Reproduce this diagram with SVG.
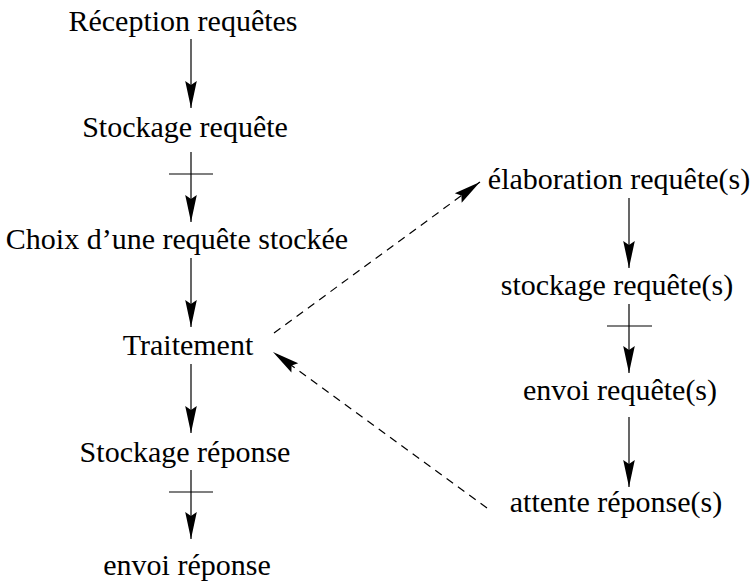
<svg xmlns="http://www.w3.org/2000/svg" width="753" height="585" viewBox="0 0 753 585">
<style>
text{font-family:"Liberation Serif","Times New Roman",serif;font-size:30px;fill:#000;text-anchor:middle}
.c{stroke:#000;stroke-width:1.2;fill:none}
.a{marker-end:url(#ah)}
.d{stroke-dasharray:8 6}
</style>
<defs>
<marker id="ah" markerUnits="userSpaceOnUse" viewBox="-28 -7 29 14" markerWidth="29" markerHeight="14" refX="0" refY="0" orient="auto">
<path d="M0,0 L-27,-5.8 L-23,0 L-27,5.8 Z" fill="#000"/>
</marker>
</defs>
<rect width="753" height="585" fill="#fff"/>
<g id="n1"><text x="183" y="31">Réception requêtes</text></g>
<g id="n2"><text x="185" y="137">Stockage requête</text></g>
<g id="n3"><text x="177" y="249">Choix d’une requête stockée</text></g>
<g id="n4"><text x="188" y="355">Traitement</text></g>
<g id="n5"><text x="185" y="462">Stockage réponse</text></g>
<g id="n6"><text x="187" y="575">envoi réponse</text></g>
<g id="n7"><text x="619" y="189">élaboration requête(s)</text></g>
<g id="n8"><text x="617" y="295">stockage requête(s)</text></g>
<g id="n9"><text x="620" y="400">envoi requête(s)</text></g>
<g id="n10"><text x="616" y="512">attente réponse(s)</text></g>
<g id="connectors">
<line class="c a" x1="191" y1="39" x2="191" y2="108"/>
<line class="c a" x1="191" y1="152" x2="191" y2="222"/>
<line class="c" x1="169" y1="174" x2="213" y2="174"/>
<line class="c a" x1="191" y1="258" x2="191" y2="327"/>
<line class="c a" x1="191" y1="364" x2="191" y2="433"/>
<line class="c a" x1="191" y1="470" x2="191" y2="539"/>
<line class="c" x1="169" y1="492" x2="213" y2="492"/>
<line class="c a" x1="629" y1="198" x2="629" y2="268"/>
<line class="c a" x1="629" y1="304" x2="629" y2="373"/>
<line class="c" x1="607" y1="326" x2="652" y2="326"/>
<line class="c a" x1="629" y1="417" x2="629" y2="487"/>
<line class="c d a" x1="274" y1="333" x2="480" y2="182"/>
<line class="c d a" x1="487" y1="508" x2="273" y2="352"/>
</g>
</svg>
